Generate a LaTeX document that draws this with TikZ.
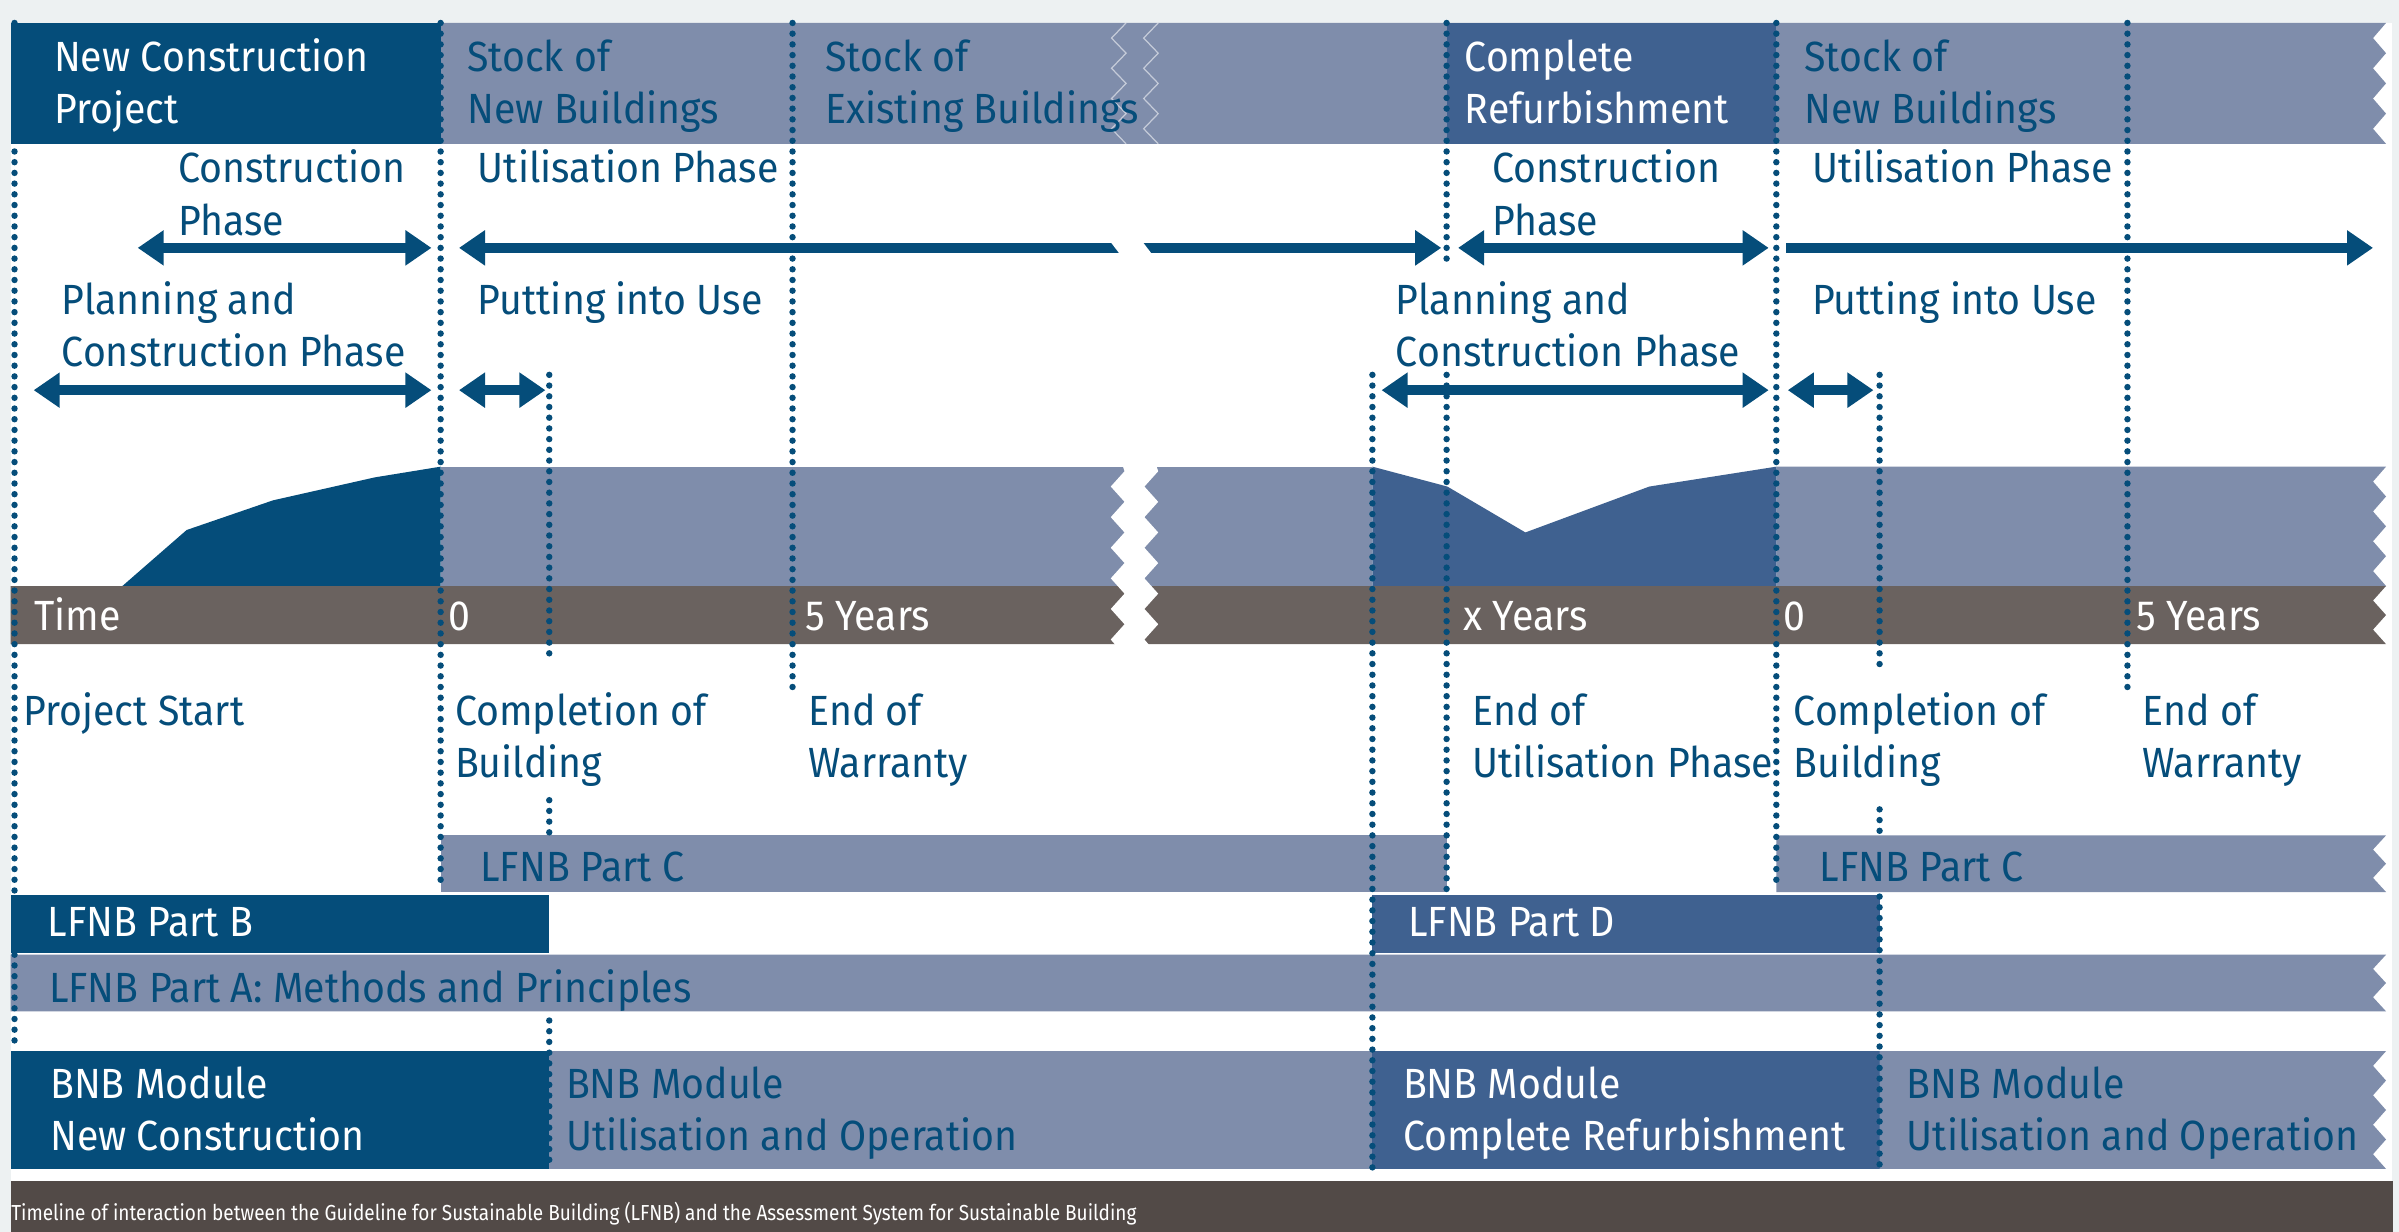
\documentclass[tikz,border=0pt]{standalone}
\usepackage{fontspec}
\setmainfont[FakeStretch=0.93]{Fira Sans}
\newfontfamily\capfont[FakeStretch=0.875]{Fira Sans}
\usetikzlibrary{arrows.meta}
\definecolor{dblue}{HTML}{054D7A}
\definecolor{mblue}{HTML}{3F6190}
\definecolor{lblue}{HTML}{7F8DAB}
\definecolor{timebar}{HTML}{6A625F}
\definecolor{capbar}{HTML}{524A47}
\definecolor{pagebg}{HTML}{EDF1F2}
\newcommand{\zigedge}[3]{\foreach \k in {1,...,#3}{ -- ({1551},{#1+(2*\k-1)*(#2-#1)/(2*#3)}) -- ({1559.5},{#1+2*\k*(#2-#1)/(2*#3)}) }}
\newcommand{\twol}[2]{\vtop{\baselineskip=17.1pt\hbox{#1}\hbox{#2}}}
\tikzset{
  bl/.style={anchor=base west, inner sep=0pt, font=\fontsize{13.8}{17.1}\selectfont, text=dblue},
  wl/.style={bl, text=white},
  dots/.style={draw=dblue, line width=2.1pt, line cap=round, dash pattern=on 0pt off 3.5pt},
  arr/.style={draw=dblue, line width=3.4pt},
  >={Triangle[length=8.5pt,width=11pt]}
}
\begin{document}
\begin{tikzpicture}[x=0.5pt,y=-0.5pt]
\useasboundingbox (0,0) rectangle (1568,805);
\fill[pagebg] (0,0) rectangle (1568,805);
\fill[white] (7,15) rectangle (1563.5,805);

% ---------- top band ----------
\fill[lblue] (288,15) -- (1559.5,15) \zigedge{15}{94}{4} -- (288,94) -- cycle;
\fill[dblue] (7,15) rectangle (288,94);
\fill[mblue] (945.5,15) rectangle (1161,94);
\draw[white, opacity=0.55, line width=0.4pt] (736,15) \foreach \k in {1,...,4}{ -- (726.5,{15+(2*\k-1)*9.875}) -- (736,{15+2*\k*9.875}) };
\draw[white, opacity=0.55, line width=0.4pt] (757,15) \foreach \k in {1,...,4}{ -- (747.5,{15+(2*\k-1)*9.875}) -- (757,{15+2*\k*9.875}) };

% ---------- area + time rows ----------
\fill[lblue] (288,305) -- (897,305) -- (897,383) -- (288,383) -- cycle;
\fill[lblue] (1161,305) -- (1559.5,305) \zigedge{305}{383}{4} -- (1161,383) -- cycle;
\fill[dblue] (80,383) -- (122,346.4) -- (178.5,327) -- (245,312) -- (288,305) -- (288,383) -- cycle;
\fill[mblue] (897,305) -- (946,318) -- (997,348) -- (1078,318) -- (1161,305) -- (1161,383) -- (897,383) -- cycle;
\fill[timebar] (7,383) -- (1559.5,383) \zigedge{383}{421}{2} -- (7,421) -- cycle;
% break
\fill[white] (734,305) \foreach \k in {0,...,5}{ -- (735,{308+20*\k}) -- (726,{318+20*\k}) } -- (729,421.5)
  -- (751,421.5) \foreach \k in {5,4,...,0}{ -- (748,{318+20*\k}) -- (757,{308+20*\k}) } -- (756,305) -- cycle;

% ---------- bars ----------
\fill[lblue] (288,546) rectangle (945.5,583);
\fill[lblue] (1161,546) -- (1559.5,546) \zigedge{546}{583}{2} -- (1161,583) -- cycle;
\fill[dblue] (7,585) rectangle (358.5,623);
\fill[mblue] (897,585) rectangle (1228.5,623);
\fill[lblue] (7,624) -- (1559.5,624) \zigedge{624}{661}{2} -- (7,661) -- cycle;
\fill[dblue] (7,687) rectangle (358.5,764);
\fill[lblue] (358.5,687) rectangle (897,764);
\fill[mblue] (897,687) rectangle (1228.5,764);
\fill[lblue] (1228.5,687) -- (1559.5,687) \zigedge{687}{764}{4} -- (1228.5,764) -- cycle;
\fill[capbar] (7,772) rectangle (1564,805);

% ---------- texts ----------
\node[wl] (tNC)  at (35,46.4)   {\twol{New Construction}{Project}};
\node[bl] (tSN1) at (305,46.4)  {\twol{Stock of}{New Buildings}};
\node[bl] (tSE)  at (539,46.4)  {\twol{Stock of}{Existing Buildings}};
\node[wl] (tCR)  at (957,46.4)  {\twol{Complete}{Refurbishment}};
\node[bl] (tSN2) at (1179,46.4) {\twol{Stock of}{New Buildings}};

\node[bl] (pCP1) at (116,119.4) {\twol{Construction}{Phase}};
\node[bl] (pUP1) at (312,119.4) {Utilisation Phase};
\node[bl] (pPC1) at (40,205.3)  {\twol{Planning and}{Construction Phase}};
\node[bl] (pPU1) at (312,205.3) {Putting into Use};
\node[bl] (pCP2) at (975,119.4) {\twol{Construction}{Phase}};
\node[bl] (pUP2) at (1184,119.4) {Utilisation Phase};
\node[bl] (pPC2) at (912,205.3) {\twol{Planning and}{Construction Phase}};
\node[bl] (pPU2) at (1184,205.3) {Putting into Use};

\node[wl] (yT)  at (22,411.8)   {Time};
\node[wl] (y0a) at (293,411.8)  {0};
\node[wl] (y5a) at (526,411.8)  {5 Years};
\node[wl] (yx)  at (956,411.8)  {x Years};
\node[wl] (y0b) at (1165,411.8) {0};
\node[wl] (y5b) at (1396,411.8) {5 Years};

\node[bl] (mPS)  at (15,474)   {Project Start};
\node[bl] (mCB1) at (297,474)  {\twol{Completion of}{Building}};
\node[bl] (mEW1) at (528,474)  {\twol{End of}{Warranty}};
\node[bl] (mEU)  at (962,474)  {\twol{End of}{Utilisation Phase}};
\node[bl] (mCB2) at (1172,474) {\twol{Completion of}{Building}};
\node[bl] (mEW2) at (1400,474) {\twol{End of}{Warranty}};

\node[bl] (bC1) at (313.6,576) {LFNB Part C};
\node[bl] (bC2) at (1189,576)  {LFNB Part C};
\node[wl] (bB)  at (30.7,612)  {LFNB Part B};
\node[wl] (bD)  at (920,612)   {LFNB Part D};
\node[bl] (bA)  at (31.7,655)  {LFNB Part A: Methods and Principles};
\node[wl] (mNC) at (32.4,718)  {\twol{BNB Module}{New Construction}};
\node[bl] (mUO1) at (369.6,718) {\twol{BNB Module}{Utilisation and Operation}};
\node[wl] (mCR) at (916.6,718) {\twol{BNB Module}{Complete Refurbishment}};
\node[bl] (mUO2) at (1246,718) {\twol{BNB Module}{Utilisation and Operation}};

\node[anchor=base west, inner sep=0pt, text=white, font=\capfont\fontsize{7.1}{8}\selectfont] (cap) at (7,797.4)
  {Timeline of interaction between the Guideline for Sustainable Building (LFNB) and the Assessment System for Sustainable Building};

% ---------- arrows ----------
\coordinate (a1l) at (90,162);   \coordinate (a1r) at (282,162);
\coordinate (a2l) at (300,162);  \coordinate (a2r) at (942,162);
\coordinate (a3l) at (953,162);  \coordinate (a3r) at (1156,162);
\coordinate (a4l) at (1167.5,162); \coordinate (a4r) at (1551,162);
\coordinate (b1l) at (22,255);   \coordinate (b1r) at (282,255);
\coordinate (b2l) at (300,255);  \coordinate (b2r) at (356.5,255);
\coordinate (b3l) at (903,255);  \coordinate (b3r) at (1156,255);
\coordinate (b4l) at (1168.5,255); \coordinate (b4r) at (1224.5,255);
\draw[arr,<->] (a1l) -- (a1r);
\draw[arr,<->] (a2l) -- (a2r);
\fill[white] (725,157) -- (746,157) -- (754,167.5) -- (733,167.5) -- cycle;
\draw[arr,<->] (a3l) -- (a3r);
\draw[arr,->]  (a4l) -- (a4r);
\draw[arr,<->] (b1l) -- (b1r);
\draw[arr,<->] (b2l) -- (b2r);
\draw[arr,<->] (b3l) -- (b3r);
\draw[arr,<->] (b4l) -- (b4r);

% ---------- dotted guide lines ----------
\coordinate (d1t) at (9.5,15);    \coordinate (d1b) at (9.5,686);
\coordinate (d2t) at (288,15);    \coordinate (d2b) at (288,582);
\coordinate (d3a) at (359,245);   \coordinate (d3b) at (359,432);
\coordinate (d3c) at (359,523);   \coordinate (d3d) at (359,547);
\coordinate (d3e) at (359,667);   \coordinate (d3f) at (359,765);
\coordinate (d4t) at (518,15);    \coordinate (d4b) at (518,452);
\coordinate (d5t) at (897,245);   \coordinate (d5b) at (897,765);
\coordinate (d6a) at (945.5,15);  \coordinate (d6b) at (945.5,174);
\coordinate (d6c) at (945.5,245); \coordinate (d6d) at (945.5,582);
\coordinate (d7t) at (1161,15);   \coordinate (d7b) at (1161,580);
\coordinate (d8a) at (1228.5,245); \coordinate (d8b) at (1228.5,440);
\coordinate (d8c) at (1228.5,529); \coordinate (d8d) at (1228.5,549);
\coordinate (d8e) at (1228.5,586); \coordinate (d8f) at (1228.5,765);
\coordinate (d9t) at (1390.5,15); \coordinate (d9b) at (1390.5,452);
\draw[dots] (d1t) -- (d1b);
\draw[dots] (d2t) -- (d2b);
\draw[dots] (d3a) -- (d3b);
\draw[dots] (d3c) -- (d3d);
\draw[dots] (d3e) -- (d3f);
\draw[dots] (d4t) -- (d4b);
\draw[dots] (d5t) -- (d5b);
\draw[dots] (d6a) -- (d6b);
\draw[dots] (d6c) -- (d6d);
\draw[dots] (d7t) -- (d7b);
\draw[dots] (d8a) -- (d8b);
\draw[dots] (d8c) -- (d8d);
\draw[dots] (d8e) -- (d8f);
\draw[dots] (d9t) -- (d9b);
\end{tikzpicture}
\end{document}
